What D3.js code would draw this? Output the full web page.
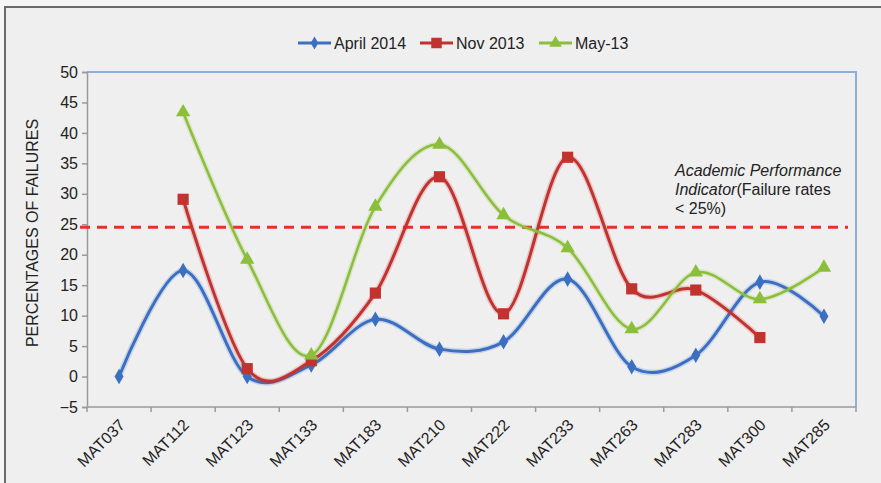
<!DOCTYPE html>
<html><head><meta charset="utf-8">
<script src="https://cdn.jsdelivr.net/npm/d3@7"></script>
<style>
html,body{margin:0;padding:0;background:#f5f5f5;}
svg{display:block;font-family:Arial,"Liberation Sans",Helvetica,sans-serif;}
</style></head>
<body>
<svg id="chart" width="881" height="483"></svg>
<script>
const categories = ["MAT037","MAT112","MAT123","MAT133","MAT183","MAT210","MAT222","MAT233","MAT263","MAT283","MAT300","MAT285"];
const april2014 = [0, 17.4, 0, 1.9, 9.4, 4.5, 5.7, 16.0, 1.6, 3.5, 15.5, 9.9];
const nov2013 = [null, 29.1, 1.3, 2.6, 13.7, 32.8, 10.3, 36.0, 14.4, 14.2, 6.4, null];
const may13 = [null, 43.4, 19.2, 3.5, 27.9, 38.1, 26.5, 21.1, 7.8, 17.1, 12.7, 17.9];
const seriesNames = ["April 2014", "Nov 2013", "May-13"];
const yTicks = [-5,0,5,10,15,20,25,30,35,40,45,50];
const threshold = 24.5;
const yTitle = "PERCENTAGES OF FAILURES";

const colors = ["#3b6fc2", "#c2322f", "#8bbf3a"];
const seriesData = [april2014, nov2013, may13];
const markers = [d3.symbolDiamond, d3.symbolSquare, d3.symbolTriangle];
const markerSizes = [70, 125, 90];

const svg = d3.select("#chart");
// frame
svg.append("rect").attr("x",5).attr("y",7).attr("width",890).attr("height",490)
  .attr("fill","#efefef").attr("stroke","#6a6a6a").attr("stroke-width",2);

const L = 87, R = 856, T = 72, B = 407;
const x = d3.scaleBand().domain(categories).range([L, R]);
const y = d3.scaleLinear().domain([-5, 50]).range([B, T]);

// plot border (top & right light blue)
svg.append("path").attr("d", `M${L},${T}H${R}V${B}`).attr("fill","none")
  .attr("stroke","#8eaedb").attr("stroke-width",2);

// y axis
const yAxis = d3.axisLeft(y).tickValues(yTicks).tickSize(5).tickPadding(4)
  .tickFormat(d => d < 0 ? "\u2212" + Math.abs(d) : d);
const gy = svg.append("g").attr("transform",`translate(${L},0)`).call(yAxis);
gy.select(".domain").attr("stroke","#9a9a9a").attr("stroke-width",1.5);
gy.selectAll(".tick line").attr("stroke","#9a9a9a").attr("stroke-width",1.5);
gy.selectAll(".tick text").attr("font-size",16).attr("fill","#222").attr("font-family","Arial,'Liberation Sans',sans-serif");

// x axis
const gx = svg.append("g").attr("transform",`translate(0,${B})`);
gx.append("line").attr("x1",L).attr("x2",R).attr("y1",0).attr("y2",0).attr("stroke","#9a9a9a").attr("stroke-width",1.5);
const bounds = categories.map(c => x(c)).concat([R]);
gx.selectAll("line.tk").data(bounds).join("line").attr("class","tk")
  .attr("x1",d=>d).attr("x2",d=>d).attr("y1",0).attr("y2",5).attr("stroke","#9a9a9a").attr("stroke-width",1.5);
gx.selectAll("text").data(categories).join("text")
  .attr("transform", d => `translate(${x(d)+x.bandwidth()/2+7},19) rotate(-45)`)
  .attr("text-anchor","end").attr("font-size",16).attr("fill","#222").text(d=>d);

// y title
svg.append("text").attr("transform",`translate(38,233) rotate(-90)`).attr("text-anchor","middle")
  .attr("font-size",16).attr("fill","#222").text(yTitle);

// threshold line
svg.append("line").attr("x1",80).attr("x2",848).attr("y1",y(threshold)).attr("y2",y(threshold))
  .attr("stroke","#e8302b").attr("stroke-width",3).attr("stroke-dasharray","10,7");

// annotation
const ann = svg.append("text").attr("font-size",16).attr("fill","#222");
ann.append("tspan").attr("x",675).attr("y",176).attr("font-style","italic").text("Academic Performance");
const l2 = ann.append("tspan").attr("x",675).attr("y",195);
l2.append("tspan").attr("font-style","italic").text("Indicator");
l2.append("tspan").text("(Failure rates");
ann.append("tspan").attr("x",675).attr("y",214).text("< 25%)");

// lines
const cx = (i) => x(categories[i]) + x.bandwidth()/2;
const lineGen = d3.line().defined(d => d.v !== null).x(d => cx(d.i)).y(d => y(d.v))
  .curve(d3.curveCardinal.tension(0));
const widths = [3, 3, 2.5];
seriesData.forEach((vals, s) => {
  const pts = vals.map((v,i)=>({v,i}));
  svg.append("path").attr("d", lineGen(pts)).attr("fill","none")
    .attr("stroke", colors[s]).attr("stroke-opacity",0.2).attr("stroke-width", widths[s]+3);
  svg.append("path").attr("d", lineGen(pts)).attr("fill","none")
    .attr("stroke", colors[s]).attr("stroke-width", widths[s]);
  svg.selectAll(null).data(pts.filter(d=>d.v!==null)).join("path")
    .attr("transform", d => `translate(${cx(d.i)},${y(d.v)})`)
    .attr("d", d3.symbol().type(markers[s]).size(markerSizes[s]))
    .attr("fill", colors[s]);
});

// legend
const legendX = [298, 420, 539];
const legendSizes = [50, 110, 70];
const lg = svg.append("g");
seriesNames.forEach((n, s) => {
  const g = lg.append("g").attr("transform", `translate(${legendX[s]},43)`);
  g.append("line").attr("x1",0).attr("x2",33).attr("stroke",colors[s]).attr("stroke-width",3);
  g.append("path").attr("transform","translate(16.5,0)").attr("d", d3.symbol().type(markers[s]).size(legendSizes[s])).attr("fill",colors[s]);
  g.append("text").attr("x",36).attr("y",5.5).attr("font-size",16).attr("fill","#222").text(n);
});
</script>
</body></html>
